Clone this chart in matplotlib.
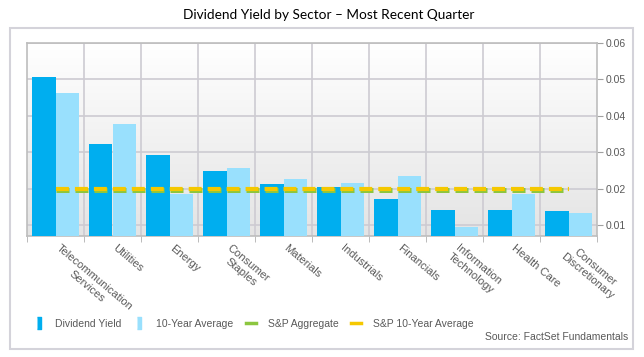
import numpy as np
import matplotlib
matplotlib.use('Agg')
import matplotlib.pyplot as plt
import matplotlib.transforms as mtransforms
from matplotlib.lines import Line2D
from matplotlib.patches import Rectangle

sectors = ['Telecommunication\nServices', 'Utilities', 'Energy', 'Consumer\nStaples',
           'Materials', 'Industrials', 'Financials', 'Information\nTechnology',
           'Health Care', 'Consumer\nDiscretionary']
dividend_yield = [0.0507, 0.0322, 0.0292, 0.0248, 0.0213, 0.0204, 0.0171, 0.0141, 0.0141, 0.0139]
ten_year_avg = [0.0463, 0.0378, 0.0186, 0.0257, 0.0226, 0.0215, 0.0235, 0.0095, 0.0185, 0.0133]
sp_aggregate = 0.0197
sp_ten_year = 0.0199
y_ticks = [0.01, 0.02, 0.03, 0.04, 0.05, 0.06]

c_dy = '#00aeef'
c_avg = '#99e0fd'
c_green = '#8cc63f'
c_yellow = '#f5c800'
c_text = '#595959'
c_grid = '#cdcbd2'

plt.rcParams['font.family'] = ['Liberation Sans', 'DejaVu Sans']

fig = plt.figure(figsize=(6.44, 3.57), dpi=100)
ax = fig.add_axes([27 / 644, 1 - 236 / 357, 570 / 644, 193 / 357])

x = np.arange(len(sectors))
ymin, ymax = 0.007, 0.06
ax.set_xlim(-0.5, len(sectors) - 0.5)
ax.set_ylim(ymin, ymax)

# background gradient, white at the top
grad = np.linspace(0, 1, 256).reshape(-1, 1)
ax.imshow(grad, extent=(-0.5, len(sectors) - 0.5, ymin, ymax), aspect='auto',
          cmap=matplotlib.colors.LinearSegmentedColormap.from_list('g', ['#e4e4e4', '#ffffff']),
          origin='lower', zorder=0)

w = 0.41
ax.bar(x - w / 2, dividend_yield, w, color=c_dy, zorder=3)
ax.bar(x + w / 2, ten_year_avg, w, color=c_avg, zorder=3)

ax.plot([x[0], x[-1]], [sp_aggregate, sp_aggregate], color=c_green, lw=3.6,
        dashes=(2.6, 1.2), zorder=4)
ax.plot([x[0], x[-1]], [sp_ten_year, sp_ten_year], color=c_yellow, lw=3.0,
        dashes=(3.1, 1.45), zorder=5)

# grid
for b in np.arange(0.5, len(sectors) - 0.5, 1):
    ax.axvline(b, color=c_grid, lw=1.2, zorder=1)
for t in y_ticks:
    ax.axhline(t, color=c_grid, lw=1.2, zorder=1)

ax.yaxis.tick_right()
ax.set_yticks(y_ticks)
ax.set_yticklabels([f'{t:.2f}' for t in y_ticks])
ax.tick_params(axis='y', colors='#a0a0a0', labelcolor=c_text, labelsize=7.5, length=4, pad=2)

ax.set_xticks(np.arange(-0.5, len(sectors), 1), minor=True)
ax.set_xticks(x)
ax.set_xticklabels(sectors, rotation=-40, ha='left', va='top', rotation_mode='anchor',
                   multialignment='center')
ax.tick_params(axis='x', which='major', length=0, labelcolor=c_text, labelsize=8, pad=5)
ax.tick_params(axis='x', which='minor', length=4, color='#b0b0b0')
shift = mtransforms.ScaledTranslation(5 / 100, 0, fig.dpi_scale_trans)
for lbl in ax.get_xticklabels():
    lbl.set_transform(lbl.get_transform() + shift)

for s in ax.spines.values():
    s.set_color('#bdbdbd')
    s.set_linewidth(1.2)

# outer frame
fig.patches.append(Rectangle((10 / 644, 1 - 349 / 357), 623 / 644, 321 / 357,
                             transform=fig.transFigure, fill=False,
                             edgecolor='#d4d3da', lw=1.5))

fig.text(0.51, 1 - 15 / 357, 'Dividend Yield by Sector \u2013 Most Recent Quarter',
         ha='center', va='center', fontsize=9.8, family=['Lato', 'DejaVu Sans'])

bar_marker = [(-0.2, -0.5), (0.2, -0.5), (0.2, 0.5), (-0.2, 0.5)]
handles = [
    Line2D([], [], ls='none', marker=bar_marker, markersize=8, color=c_dy),
    Line2D([], [], ls='none', marker=bar_marker, markersize=8, color=c_avg),
    Line2D([], [], color=c_green, lw=2.5),
    Line2D([], [], color=c_yellow, lw=2.5),
]
labels = ['Dividend Yield', '10-Year Average', 'S&P Aggregate', 'S&P 10-Year Average']
fig.legend(handles, labels, loc='center left', bbox_to_anchor=(24 / 644, 1 - 324 / 357),
           ncol=4, frameon=False, fontsize=7.5, handlelength=1.0, handletextpad=1.1,
           columnspacing=1.2, labelcolor=c_text)

fig.text(628 / 644, 1 - 337 / 357, 'Source: FactSet Fundamentals', ha='right', va='center',
         fontsize=7.5, color=c_text)

fig.savefig('out.png', dpi=100)
